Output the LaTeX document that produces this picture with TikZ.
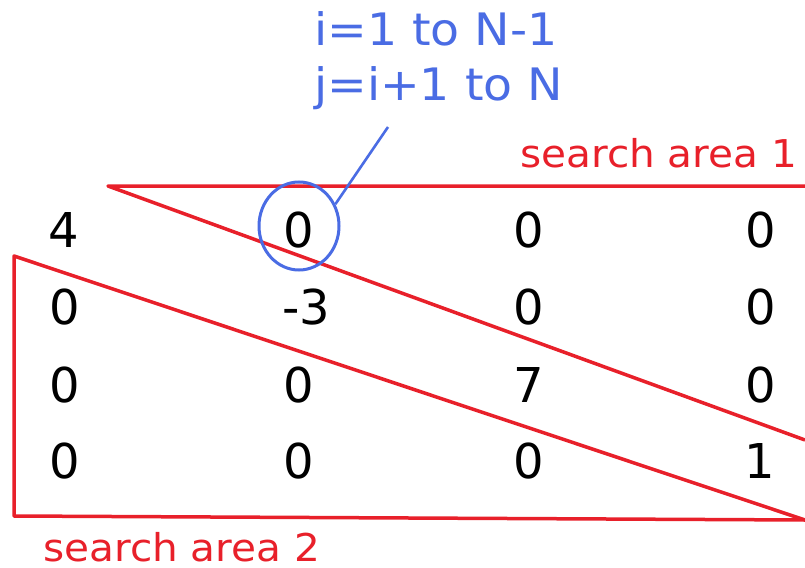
\documentclass[tikz,border=0pt]{standalone}
\usepackage{fontspec}
\setmainfont{DejaVu Sans}
\newfontfamily\widesans[FakeStretch=1.06]{DejaVu Sans}
\usetikzlibrary{shapes.geometric}
\definecolor{redline}{HTML}{E8202A}
\definecolor{bluetxt}{HTML}{4A6CE4}
\begin{document}
\begin{tikzpicture}[x=1pt,y=-1pt,
  num/.style={anchor=west,inner sep=0pt,font=\fontsize{48}{48}\selectfont,text=black},
  bluelbl/.style={anchor=base west,inner sep=0pt,font=\widesans\fontsize{44.7}{44.7}\selectfont,text=bluetxt},
  redlbl/.style={anchor=base west,inner sep=0pt,font=\widesans\fontsize{38.3}{38.3}\selectfont,text=redline},
  area/.style={draw=redline,line width=3.5pt,line join=round},
  hilite/.style={draw=bluetxt,line width=3pt,ellipse,inner sep=0pt,minimum width=80pt,minimum height=88pt},
  pointer/.style={draw=bluetxt,line width=2.6pt}]
\useasboundingbox[fill=white] (0,0) rectangle (805,567);
% search areas
\coordinate (a1tip) at (108,186);
\coordinate (a1top) at (805,186);
\coordinate (a1bot) at (805,440);
\coordinate (a2top) at (14,256);
\coordinate (a2bl) at (14,516);
\coordinate (a2br) at (805,520);
\draw[area] (a1top) -- (a1tip) -- (a1bot);
\draw[area] (a2br) -- (a2bl) -- (a2top) -- cycle;
% matrix
\node[num] (m11) at (48,230) {4};
\node[num] (m12) at (283,230) {0};
\node[num] (m13) at (513,230) {0};
\node[num] (m14) at (745,230) {0};
\node[num] (m21) at (49,307) {0};
\node[num] (m22) at (282,307) {-3};
\node[num] (m23) at (513,307) {0};
\node[num] (m24) at (745,307) {0};
\node[num] (m31) at (49,385) {0};
\node[num] (m32) at (283,385) {0};
\node[num] (m33) at (513,385) {7};
\node[num] (m34) at (745,385) {0};
\node[num] (m41) at (49,461) {0};
\node[num] (m42) at (283,461) {0};
\node[num] (m43) at (513,461) {0};
\node[num] (m44) at (744,461) {1};
% highlight
\node[hilite] (circ) at (299,226) {};
\coordinate (ptip) at (388,127);
\draw[pointer] (circ.31) -- (ptip);
% labels
\node[bluelbl] (loopi) at (314,46) {i=1 to N-1};
\node[bluelbl] (loopj) at (314,101) {j=i+1 to N};
\node[redlbl] (s1) at (520,167) {search area 1};
\node[redlbl] (s2) at (43,561) {search area 2};
\end{tikzpicture}
\end{document}
